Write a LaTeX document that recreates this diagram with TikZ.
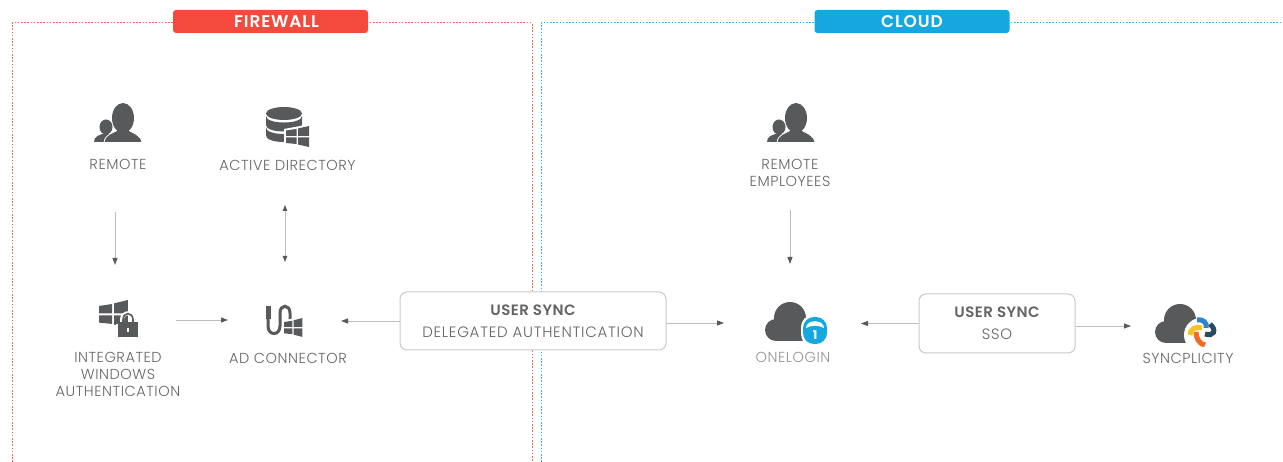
\documentclass[tikz,border=0pt]{standalone}
\usepackage{fontspec}
\setmainfont{Poppins}
\newfontfamily\labelfont[LetterSpace=3.8]{Poppins Light}
\newfontfamily\boxfont[LetterSpace=5]{Poppins Light}
\newfontfamily\headfont[LetterSpace=3]{Poppins SemiBold}
\newfontfamily\badgefont[LetterSpace=5]{Poppins SemiBold}
\usetikzlibrary{arrows.meta}
\definecolor{icongray}{HTML}{58595B}
\definecolor{textgray}{HTML}{636466}
\definecolor{linegray}{HTML}{BDBDBD}
\definecolor{fwred}{HTML}{F4493D}
\definecolor{cloudblue}{HTML}{15A7E0}
\definecolor{wheelyellow}{HTML}{F6C21C}
\definecolor{wheelblue}{HTML}{2E86C8}
\definecolor{wheelnavy}{HTML}{2B4A5E}
\definecolor{wheelorange}{HTML}{F26B21}
\tikzset{
  zone/.style={dash pattern=on 1.6pt off 1.6pt, line width=1pt},
  badge/.style={rounded corners=3pt, minimum width=195pt, minimum height=23pt, inner sep=0pt,
    text=white, font=\fontsize{17}{17}\badgefont},
  label/.style={text=textgray, align=center, inner sep=0pt, font=\fontsize{14.5}{17}\labelfont},
  syncbox/.style={draw=linegray!80, fill=white, rounded corners=7pt, line width=1pt, inner sep=0pt,
    text=textgray, align=center, font=\fontsize{15}{22}\boxfont},
  iconbox/.style 2 args={minimum width=#1pt, minimum height=#2pt, inner sep=0pt, outer sep=0pt},
  link/.style={draw=linegray, line width=0.9pt, -{Triangle[length=7pt,width=5pt,color=icongray]}},
  twolink/.style={draw=linegray, line width=0.9pt,
    {Triangle[length=6pt,width=4.5pt,color=icongray]}-{Triangle[length=6pt,width=4.5pt,color=icongray]}},
  person/.pic={
    \fill[icongray] (-17,9) ellipse [x radius=6.5pt, y radius=7.5pt];
    \fill[icongray] (-29,24) .. controls (-29,18) and (-24,17) .. (-17,15)
      .. controls (-10,17) and (-8,18) .. (-8,24) -- cycle;
    \fill[icongray] (0,0) ellipse [x radius=11pt, y radius=15pt];
    \fill[icongray, draw=white, line width=0.8pt] (-19,24.5) .. controls (-18,16) and (-10,15) .. (-5,12)
      -- (5,12) .. controls (10,15) and (18,17) .. (19,24.5) -- cycle;
    \fill[icongray] (-6,8) rectangle (6,14);
  },
  winflag/.pic={
    \fill[white] (-2,3) -- (25,-2) -- (25,24) -- (-2,19) -- cycle;
    \fill[icongray] (0,4.5) -- (10.5,3) -- (10.5,10) -- (0,10) -- cycle;
    \fill[icongray] (12,2.5) -- (23,0) -- (23,10) -- (12,10) -- cycle;
    \fill[icongray] (0,11.5) -- (10.5,11.5) -- (10.5,18) -- (0,17) -- cycle;
    \fill[icongray] (12,11.5) -- (23,11.5) -- (23,21) -- (12,18.5) -- cycle;
  },
  database/.pic={
    \fill[icongray] (0,0) ellipse [x radius=18pt, y radius=6.5pt];
    \foreach \a/\b in {2.5/11.5,14/22}
      \fill[icongray] (-18,\a) -- (-18,\b) .. controls (-18,\b+8.7) and (18,\b+8.7) .. (18,\b)
        -- (18,\a) .. controls (18,\a+8.7) and (-18,\a+8.7) .. cycle;
  },
  padlock/.pic={
    \fill[white] (-12,-5) rectangle (12,10);
    \draw[white, line width=4pt] (-6,-6) -- (-6,-9) .. controls (-6,-18) and (6,-18) .. (6,-9) -- (6,-6);
    \draw[icongray, line width=1.6pt] (-5,-6) -- (-5,-9) .. controls (-5,-17.5) and (5,-17.5) .. (5,-9) -- (5,-6);
    \fill[icongray] (-10,-7) rectangle (10,8);
    \fill[white] (-1,-1) rectangle (1,3);
  },
  cable/.pic={
    \draw[icongray, line width=3pt] (0,10) -- (0,19) .. controls (0,29) and (12,29) .. (12,19)
      -- (12,6) .. controls (12,-3) and (22,-3) .. (22,6) -- (22,16);
    \fill[icongray] (-2.5,-1) rectangle (2.5,12);
  },
  cloudshape/.pic={
    \fill[icongray] (0,-4) circle (16pt) (-14,8) circle (11pt) (11,7) circle (12pt);
    \fill[icongray] (-14,6) rectangle (11,19);
  },
  onelock/.pic={
    \fill[white, rounded corners=12pt] (-14,-15) rectangle (14,16);
    \fill[cloudblue, rounded corners=11pt] (-12,-13) rectangle (12,14);
    \fill[white] (-9,-2) .. controls (-9,-11) and (9,-11) .. (9,-2) .. controls (4,-5) and (-4,-5) .. cycle;
    \node[text=white, inner sep=0pt, font=\fontsize{12}{12}\selectfont\bfseries] (lockdigit) at (0,5) {1};
  },
  pinwheel/.pic={
    \fill[white] (0,0) circle (17pt);
    \begin{scope}[line width=5pt]
      \draw[color=wheelnavy] (9,-11) .. controls (16,-5) and (13,2) .. (4,-1);
      \draw[color=wheelblue] (-4,-15) .. controls (3,-16) and (6,-12) .. (5,-7);
      \draw[color=wheelorange] (-5,-3) .. controls (-5,3) and (-2,9) .. (4,10);
      \draw[color=wheelyellow] (-11,0) .. controls (-11,-6) and (-5,-9) .. (1,-7);
    \end{scope}
  }
}
\begin{document}
\begin{tikzpicture}[x=1pt,y=-1pt]
  \useasboundingbox (0,0) rectangle (1283,462);
  % zones
  \coordinate (fwa) at (12,462);
  \coordinate (fwb) at (532,462);
  \coordinate (cla) at (541,462);
  \coordinate (clb) at (1283,23);
  \draw[zone, draw=fwred!85] (fwa) |- (fwb |- clb) -- (fwb);
  \draw[zone, draw=cloudblue!85] (cla) |- (clb);
  \node[badge, fill=fwred] (firewall) at (270.5,21.5) {\hspace*{12pt}FIREWALL};
  \node[badge, fill=cloudblue] (cloud) at (912,21.5) {CLOUD};

  % icon places, their edges are where the arrows stop
  \node[iconbox={60}{124}] (remote) at (115,150) {};
  \node[iconbox={60}{110}] (addir) at (285,150) {};
  \node[iconbox={60}{120}] (employees) at (790,150) {};
  \node[iconbox={122}{110}] (iwa) at (115,320) {};
  \node[iconbox={113}{116}] (adconn) at (284.5,320) {};
  \node[iconbox={137}{118}] (onelogin) at (792.5,323) {};
  \node[iconbox={114}{60}] (syncplicity) at (1188,326) {};
  \node[syncbox, minimum width=266pt, minimum height=58pt] (delegated) at (533,321)
    {{\headfont USER SYNC}\\DELEGATED AUTHENTICATION};
  \node[syncbox, minimum width=156pt, minimum height=59pt] (sso) at (997,323.5)
    {{\headfont USER SYNC}\\SSO};

  % icons
  \pic at (123,118) {person};
  \pic at (796,118) {person};
  \pic at (284,113.5) {database};
  \pic at (286,126) {winflag};
  \pic[xscale=1.26, yscale=1.33] at (99,300) {winflag};
  \pic at (128,329) {padlock};
  \pic at (268,307) {cable};
  \pic[xscale=0.8, yscale=0.9] at (284,318) {winflag};
  \pic at (790,322) {cloudshape};
  \pic at (815,330) {onelock};
  \pic at (1180,324) {cloudshape};
  \pic at (1201,335) {pinwheel};

  % labels
  \foreach \name/\pos/\txt in {remotetxt/{(118,164)}/REMOTE,
      addirtxt/{(287.5,165)}/ACTIVE DIRECTORY,
      iwatxt/{(118,374)}/{INTEGRATED\\WINDOWS\\AUTHENTICATION},
      adconntxt/{(288,358)}/AD CONNECTOR,
      employeestxt/{(790,172.5)}/{REMOTE\\EMPLOYEES},
      synctxt/{(1188,358)}/SYNCPLICITY}
    \node[label] (\name) at \pos {\txt};
  \node[label, text=textgray!70] (onelogintxt) at (793,357) {ONELOGIN};

  % arrows
  \draw[link] (remote.south) -- (iwa.north);
  \draw[twolink] (addir.south) -- (adconn.north -| addir.south);
  \draw[link] (employees.south) -- (employees.south |- onelogin.north);
  \draw[link] (iwa.east) -- (adconn.west);
  \draw[link] (delegated.west) -- (delegated.west -| adconn.east);
  \draw[link] ([yshift=-2pt]delegated.east) -- ([yshift=-2pt]delegated.east -| onelogin.west);
  \draw[link] (sso.west) -- (sso.west -| onelogin.east);
  \draw[link] ([yshift=-2.5pt]sso.east) -- (syncplicity.west);
\end{tikzpicture}
\end{document}
